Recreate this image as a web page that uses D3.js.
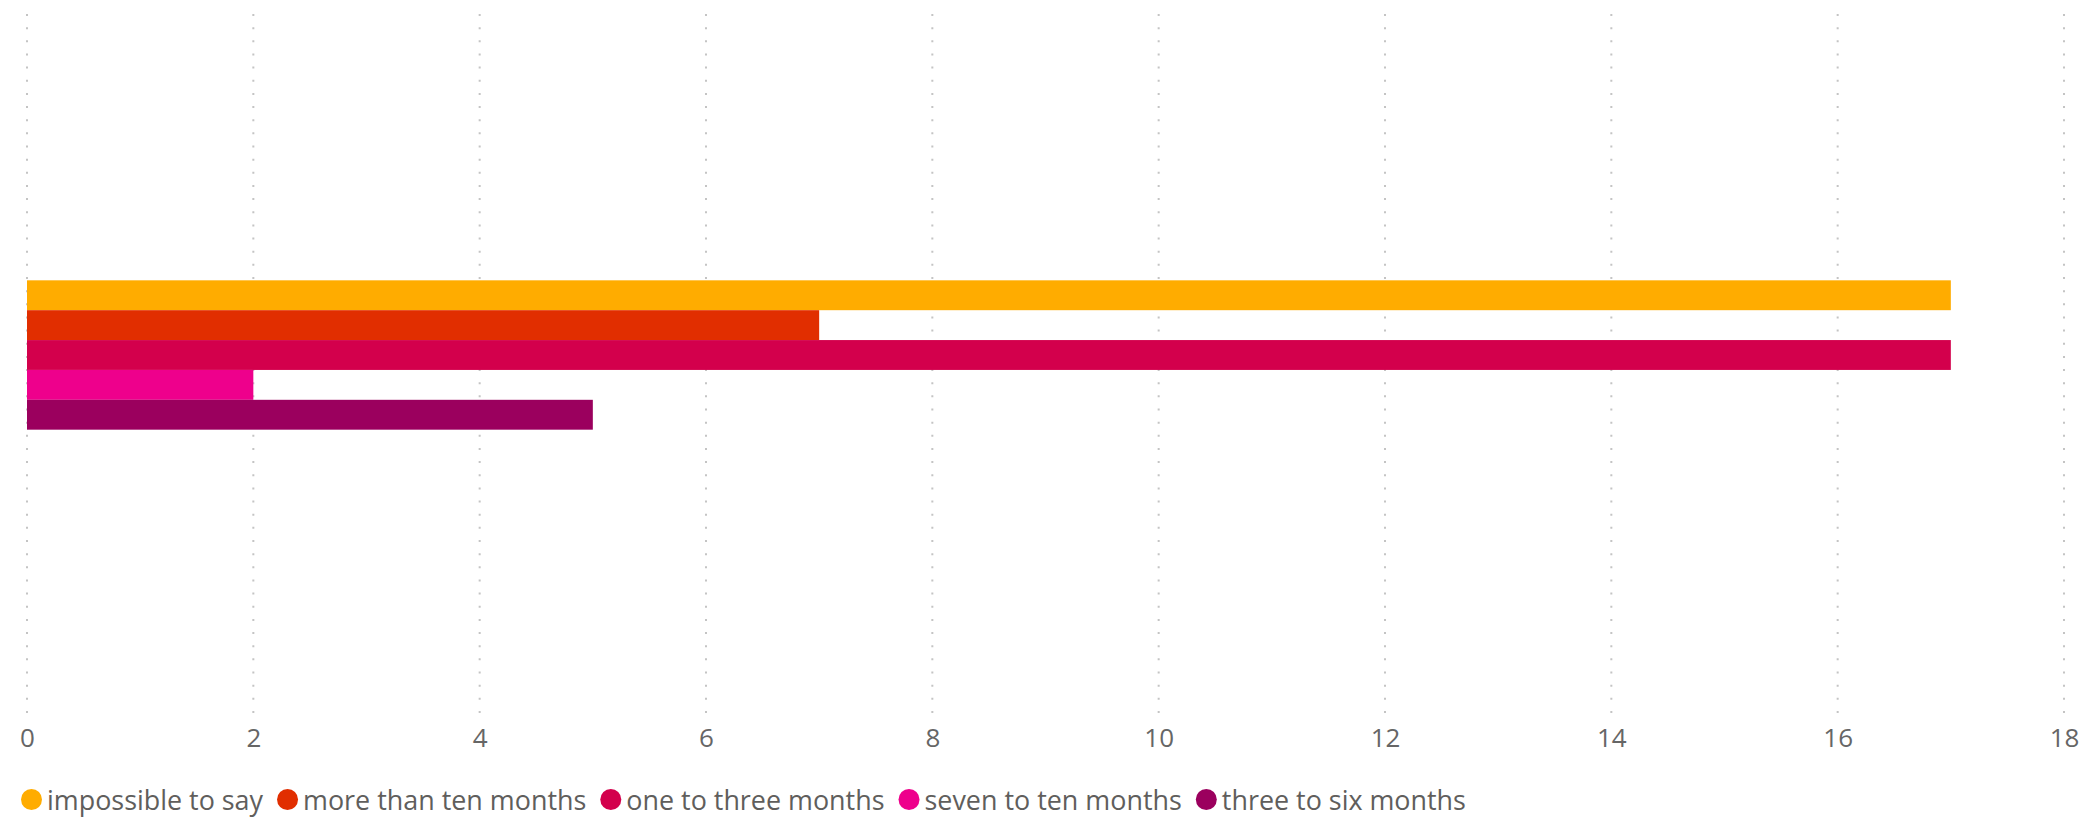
<!DOCTYPE html>
<html lang="en">
<head>
    <meta charset="UTF-8">
    <title>Clustered bar</title>
    <script src="https://d3js.org/d3.v7.min.js"></script>
    <style>
        body { margin: 0; background: #fff; }
        .tick-label { font-family: "Open Sans", sans-serif; font-size: 26px; fill: #666; }
        .legend-text { font-family: "Open Sans", sans-serif; font-size: 26.9px; fill: #605e5c; }
        .grid line { stroke: #c4c4c4; stroke-width: 2px; stroke-dasharray: 2 11.15; }
    </style>
</head>
<body>
    <svg width="2081" height="817"></svg>
    <script>
        // data
        const categories = [""];
        const seriesNames = ["impossible to say", "more than ten months", "one to three months", "seven to ten months", "three to six months"];
        const seriesValues = [17, 7, 17, 2, 5];
        const seriesColors = ["#FFAC00", "#E12E00", "#D3004C", "#EE008C", "#9B005E"];
        const xTicks = [0, 2, 4, 6, 8, 10, 12, 14, 16, 18];

        const svg = d3.select("svg");
        const plotLeft = 27, plotRight = 2064, plotTop = 14, plotBottom = 716;

        const x = d3.scaleLinear().domain([0, 18]).range([plotLeft, plotRight]);

        // one empty category, five series inside it
        const y0 = d3.scaleBand()
            .domain(categories)
            .range([plotTop, plotBottom])
            .paddingInner(0)
            .paddingOuter(1.85);

        const y1 = d3.scaleBand()
            .domain(seriesNames)
            .range([0, y0.bandwidth()]);

        // dotted vertical gridlines
        svg.append("g")
            .attr("class", "grid")
            .selectAll("line")
            .data(xTicks)
            .join("line")
            .attr("x1", d => x(d))
            .attr("x2", d => x(d))
            .attr("y1", plotTop)
            .attr("y2", plotBottom);

        // bars
        const group = svg.append("g")
            .selectAll("g")
            .data(categories)
            .join("g")
            .attr("transform", d => "translate(0," + (y0(d) - 10) + ")");

        group.selectAll("rect")
            .data(seriesNames.map((s, i) => ({ name: s, value: seriesValues[i], color: seriesColors[i] })))
            .join("rect")
            .attr("x", x(0))
            .attr("y", d => y1(d.name))
            .attr("width", d => x(d.value) - x(0))
            .attr("height", y1.bandwidth())
            .attr("fill", d => d.color);

        // x axis labels
        const axis = svg.append("g")
            .attr("transform", "translate(0,747)")
            .call(d3.axisBottom(x).tickValues(xTicks).tickSize(0).tickPadding(0));
        axis.select(".domain").remove();
        axis.attr("font-size", null).attr("font-family", null);
        axis.selectAll("text")
            .attr("class", "tick-label")
            .attr("dy", 0)
            .attr("y", 0)
            .attr("fill", null);

        // legend
        const legend = svg.append("g").attr("transform", "translate(21,810)");
        let cursor = 0;
        seriesNames.forEach((name, i) => {
            const item = legend.append("g").attr("transform", "translate(" + cursor + ",0)");
            item.append("circle")
                .attr("cx", 10.5)
                .attr("cy", -10.5)
                .attr("r", 10.5)
                .attr("fill", seriesColors[i]);
            const t = item.append("text")
                .attr("class", "legend-text")
                .attr("x", 26)
                .attr("y", 0)
                .text(name);
            cursor += 26 + t.node().getComputedTextLength() + 14;
        });
    </script>
</body>
</html>
